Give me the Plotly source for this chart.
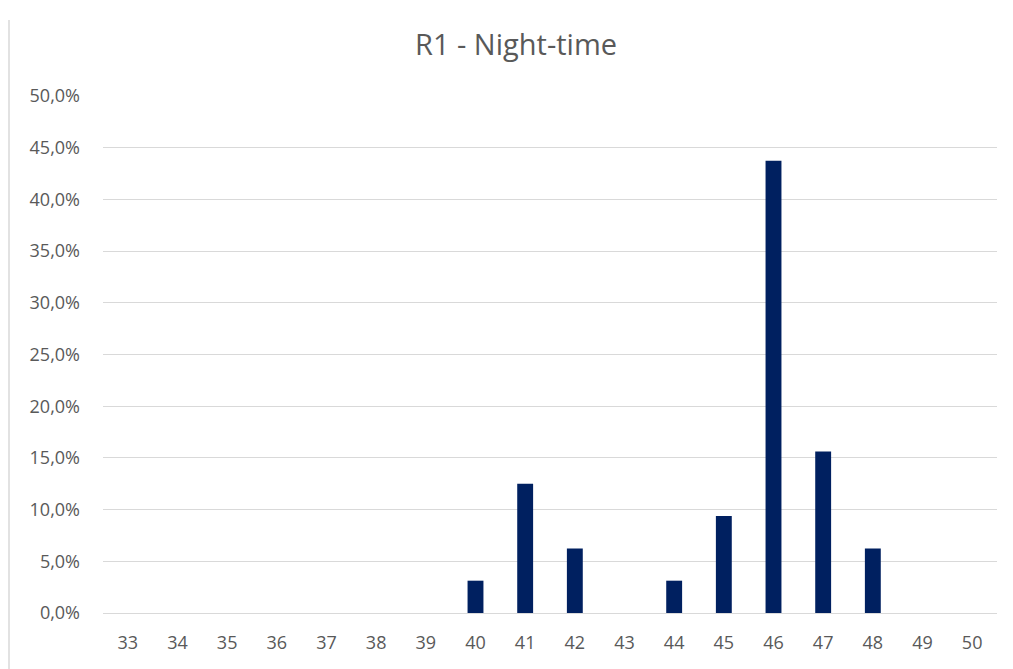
import plotly.graph_objects as go

categories = [str(c) for c in range(33, 51)]
values = [0, 0, 0, 0, 0, 0, 0, 0.03125, 0.125, 0.0625, 0, 0.03125, 0.09375, 0.4375, 0.15625, 0.0625, 0, 0]
y_ticks = [i * 0.05 for i in range(11)]

fig = go.Figure()
fig.add_trace(go.Bar(x=categories, y=values, marker=dict(color="#002060", line=dict(width=0)),
                     hoverinfo="x+y"))

W, H = 1013, 669
ml, mr, mt, mb = 103, 16, 96, 56
FONT = "Open Sans, Liberation Sans, sans-serif"
fig.update_layout(
    width=W, height=H,
    margin=dict(l=ml, r=mr, t=mt, b=mb),
    paper_bgcolor="white", plot_bgcolor="white",
    separators=",.",
    bargap=0.68,
    showlegend=False,
    title=dict(text="R1 - Night-time", x=516 / W, xanchor="center", xref="container",
               y=1 - 45 / H, yanchor="middle",
               font=dict(family=FONT, size=29, color="#595959")),
    font=dict(family=FONT, size=18, color="#595959"),
)
fig.update_xaxes(type="category", showgrid=False, showline=True, linecolor="#d9d9d9", linewidth=1,
                 ticks="", ticklabelstandoff=13, tickfont=dict(size=18, color="#595959"))
fig.update_yaxes(range=[0, 0.5], tickvals=y_ticks, tickformat=".1%", showgrid=True,
                 gridcolor="#d9d9d9", gridwidth=1, zeroline=False, showline=False, ticks="",
                 ticklabelstandoff=22, tickfont=dict(size=18, color="#595959"))

# chart frame left border
fig.add_shape(type="line", xref="paper", yref="paper",
              x0=(9 - ml) / (W - ml - mr), x1=(9 - ml) / (W - ml - mr),
              y0=-mb / (H - mt - mb) - 0.05, y1=1 + (mt - 20) / (H - mt - mb),
              line=dict(color="#d9d9d9", width=1.5))

fig.write_html("out.html", config={"displayModeBar": False},
               post_script="document.body.style.margin='0px';")
